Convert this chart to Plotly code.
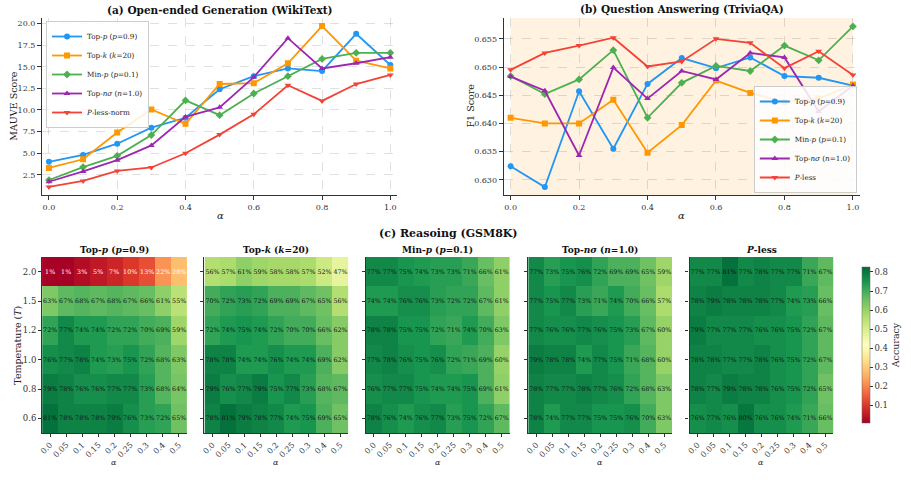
import plotly.graph_objects as go

W, H = 911, 494

# ---------------- data ----------------
alpha = [0.0, 0.1, 0.2, 0.3, 0.4, 0.5, 0.6, 0.7, 0.8, 0.9, 1.0]

mauve_top_p = [4.0, 4.8, 6.1, 7.95, 9.1, 12.4, 13.9, 14.8, 14.5, 18.8, 15.2]
mauve_top_k = [3.3, 4.3, 7.4, 10.05, 8.4, 13.0, 13.1, 15.4, 19.7, 15.7, 14.8]
mauve_min_p = [1.9, 3.4, 4.7, 7.1, 11.1, 9.4, 11.9, 13.9, 15.9, 16.6, 16.6]
mauve_top_ns = [1.7, 2.9, 4.2, 5.9, 9.2, 10.3, 13.8, 18.3, 14.8, 15.4, 16.1]
mauve_pless_norm = [1.1, 1.8, 2.95, 3.35, 5.0, 7.15, 9.5, 12.85, 11.05, 13.0, 14.05]

f1_top_p = [0.6324, 0.6287, 0.6457, 0.6355, 0.6470, 0.6516, 0.6498, 0.6517, 0.6484, 0.6481, 0.6467]
f1_top_k = [0.6410, 0.6400, 0.6400, 0.6442, 0.6348, 0.6397, 0.6476, 0.6454, 0.6438, 0.6444, 0.6469]
f1_min_p = [0.6484, 0.6452, 0.6478, 0.6530, 0.6410, 0.6472, 0.6502, 0.6493, 0.6538, 0.6512, 0.6572]
f1_top_ns = [0.6483, 0.6458, 0.6343, 0.6499, 0.6444, 0.6493, 0.6478, 0.6525, 0.6517, 0.6421, 0.6467]
f1_pless = [0.6495, 0.6525, 0.6538, 0.6552, 0.6501, 0.6510, 0.6550, 0.6543, 0.6498, 0.6528, 0.6486]

heat_alpha = ['0.0', '0.05', '0.1', '0.15', '0.2', '0.25', '0.3', '0.4', '0.5']
heat_temp = ['2.0', '1.5', '1.2', '1.0', '0.8', '0.6']

acc_top_p = [[1, 1, 3, 5, 7, 10, 13, 22, 28],
             [63, 67, 68, 67, 68, 67, 66, 61, 55],
             [72, 77, 74, 74, 72, 72, 70, 69, 59],
             [76, 77, 78, 74, 73, 75, 72, 68, 63],
             [79, 78, 76, 76, 77, 77, 73, 68, 64],
             [81, 78, 78, 78, 79, 76, 73, 72, 65]]
acc_top_k = [[56, 57, 61, 59, 58, 58, 57, 52, 47],
             [70, 72, 73, 72, 69, 69, 67, 65, 56],
             [72, 74, 75, 74, 72, 70, 70, 66, 62],
             [78, 78, 74, 74, 76, 74, 74, 69, 62],
             [79, 76, 77, 79, 75, 77, 73, 68, 67],
             [78, 81, 79, 78, 77, 74, 75, 69, 65]]
acc_min_p = [[77, 77, 75, 74, 73, 73, 71, 66, 61],
             [74, 74, 76, 76, 73, 72, 72, 67, 61],
             [78, 78, 75, 75, 72, 71, 74, 70, 63],
             [77, 78, 76, 75, 76, 72, 71, 69, 60],
             [76, 77, 77, 75, 74, 74, 75, 69, 61],
             [78, 76, 74, 76, 77, 73, 75, 72, 67]]
acc_top_ns = [[77, 73, 75, 76, 72, 69, 69, 65, 59],
              [77, 75, 77, 73, 71, 74, 70, 66, 57],
              [77, 76, 76, 77, 76, 75, 73, 67, 60],
              [79, 78, 78, 74, 77, 75, 71, 68, 60],
              [78, 77, 77, 78, 77, 76, 72, 68, 63],
              [78, 74, 77, 77, 75, 75, 76, 70, 63]]
acc_pless = [[77, 77, 81, 77, 78, 77, 77, 71, 67],
             [78, 79, 78, 78, 78, 77, 74, 73, 66],
             [79, 77, 77, 77, 76, 76, 75, 72, 67],
             [78, 78, 77, 77, 78, 76, 75, 72, 67],
             [78, 77, 79, 78, 78, 76, 75, 72, 65],
             [76, 77, 76, 80, 76, 76, 74, 71, 66]]

line_names_a = ['Top-<i>p</i> (<i>p</i>=0.9)', 'Top-<i>k</i> (<i>k</i>=20)', 'Min-<i>p</i> (<i>p</i>=0.1)',
                'Top-<i>nσ</i> (<i>n</i>=1.0)', '<i>P</i>-less-norm']
line_names_b = ['Top-<i>p</i> (<i>p</i>=0.9)', 'Top-<i>k</i> (<i>k</i>=20)', 'Min-<i>p</i> (<i>p</i>=0.1)',
                'Top-<i>nσ</i> (<i>n</i>=1.0)', '<i>P</i>-less']
heat_titles = ['Top-<i>p</i> (<i>p</i>=0.9)', 'Top-<i>k</i> (<i>k</i>=20)', 'Min-<i>p</i> (<i>p</i>=0.1)',
               'Top-<i>nσ</i> (<i>n</i>=1.0)', '<i>P</i>-less']

# ---------------- style ----------------
colors = ['#2196F3', '#FF9800', '#4CAF50', '#9C27B0', '#F44336']
symbols = ['circle', 'square', 'diamond', 'triangle-up', 'triangle-down']
SERIF = 'DejaVu Serif'
AX = '#333333'


def px(x):
    return x / W


def py(y):
    return 1 - y / H


fig = go.Figure()

series_a = [mauve_top_p, mauve_top_k, mauve_min_p, mauve_top_ns, mauve_pless_norm]
series_b = [f1_top_p, f1_top_k, f1_min_p, f1_top_ns, f1_pless]

for i, s in enumerate(series_a):
    fig.add_trace(go.Scatter(x=alpha, y=s, mode='lines+markers', name=line_names_a[i],
                             line=dict(color=colors[i], width=1.8),
                             marker=dict(symbol=symbols[i], size=6, color=colors[i]),
                             xaxis='x', yaxis='y', legend='legend'))
for i, s in enumerate(series_b):
    fig.add_trace(go.Scatter(x=alpha, y=s, mode='lines+markers', name=line_names_b[i],
                             line=dict(color=colors[i], width=1.8),
                             marker=dict(symbol=symbols[i], size=6, color=colors[i]),
                             xaxis='x2', yaxis='y2', legend='legend2'))

heat_data = [acc_top_p, acc_top_k, acc_min_p, acc_top_ns, acc_pless]
for k, d in enumerate(heat_data):
    z = [[v / 100 for v in row] for row in d]
    txt_dark = [['%d%%' % v if v >= 30 else '' for v in row] for row in d]
    z_low = [[v / 100 if v < 30 else None for v in row] for row in d]
    txt_low = [['%d%%' % v if v < 30 else '' for v in row] for row in d]
    xa = 'x%d' % (k + 3)
    ya = 'y%d' % (k + 3)
    fig.add_trace(go.Heatmap(z=z, x=heat_alpha, y=heat_temp, text=txt_dark, texttemplate='%{text}',
                             textfont=dict(family=SERIF, size=6.3, color='#111111'),
                             coloraxis='coloraxis', xaxis=xa, yaxis=ya, hoverinfo='skip'))
    if any(v < 30 for row in d for v in row):
        fig.add_trace(go.Heatmap(z=z_low, x=heat_alpha, y=heat_temp, text=txt_low, texttemplate='%{text}',
                                 textfont=dict(family=SERIF, size=6.3, color='#ffffff'),
                                 coloraxis='coloraxis', xaxis=xa, yaxis=ya, hoverinfo='skip'))

# ---------------- layout ----------------
tickfont = dict(family=SERIF, size=8, color=AX)
line_y_dom = [py(195), py(18)]

common_line_x = dict(range=[-0.02, 1.02], tickvals=[0, 0.2, 0.4, 0.6, 0.8, 1.0], ticktext=['0.0', '0.2', '0.4', '0.6', '0.8', '1.0'],
                     showline=True, linecolor=AX, linewidth=1.2, ticks='outside', ticklen=4, tickcolor=AX,
                     showgrid=True, gridcolor='rgba(0,0,0,0.12)', griddash='dash', gridwidth=0.8,
                     zeroline=False, tickfont=tickfont)

layout = dict(
    width=W, height=H, margin=dict(l=0, r=0, t=0, b=0),
    paper_bgcolor='white', plot_bgcolor='rgba(0,0,0,0)',
    showlegend=True,
    xaxis=dict(domain=[px(40), px(403)], anchor='y', **common_line_x),
    yaxis=dict(domain=line_y_dom, anchor='x', range=[0.17, 20.63], tickvals=[2.5, 5, 7.5, 10, 12.5, 15, 17.5, 20],
               ticktext=['2.5', '5.0', '7.5', '10.0', '12.5', '15.0', '17.5', '20.0'],
               showline=True, linecolor=AX, linewidth=1.2, ticks='outside', ticklen=4, tickcolor=AX,
               showgrid=True, gridcolor='rgba(0,0,0,0.12)', griddash='dash', gridwidth=0.8, zeroline=False,
               tickfont=tickfont),
    xaxis2=dict(domain=[px(512), px(876)], anchor='y2', **common_line_x),
    yaxis2=dict(domain=line_y_dom, anchor='x2', range=[0.6273, 0.6587],
                tickvals=[0.630, 0.635, 0.640, 0.645, 0.650, 0.655],
                ticktext=['0.630', '0.635', '0.640', '0.645', '0.650', '0.655'],
                showline=True, linecolor=AX, linewidth=1.2, ticks='outside', ticklen=4, tickcolor=AX,
                showgrid=True, gridcolor='rgba(0,0,0,0.12)', griddash='dash', gridwidth=0.8, zeroline=False,
                tickfont=tickfont),
    legend=dict(x=px(44), y=py(21), xanchor='left', yanchor='top', font=dict(family=SERIF, size=7.2, color='#222'),
                bgcolor='rgba(255,255,255,0.85)', bordercolor='#cccccc', borderwidth=1, itemwidth=30,
                tracegroupgap=0),
    legend2=dict(x=px(873), y=py(193), xanchor='right', yanchor='bottom', font=dict(family=SERIF, size=7.2, color='#222'),
                 bgcolor='rgba(255,255,255,0.85)', bordercolor='#cccccc', borderwidth=1, itemwidth=30,
                 tracegroupgap=0),
    coloraxis=dict(colorscale='RdYlGn', cmin=0.007, cmax=0.826,
                   colorbar=dict(x=px(868), xanchor='left', y=py(345), yanchor='middle',
                                 len=176, lenmode='pixels', thickness=8, thicknessmode='pixels',
                                 outlinewidth=0.5, outlinecolor='#666',
                                 tickvals=[0.1, 0.2, 0.3, 0.4, 0.5, 0.6, 0.7, 0.8],
                                 ticks='outside', ticklen=3, tickcolor=AX,
                                 tickfont=dict(family=SERIF, size=8.5, color=AX),
                                 title=dict(text='Accuracy', side='right', font=dict(family=SERIF, size=9.5, color=AX)))),
    shapes=[dict(type='rect', xref='x2', yref='y2 domain', x0=0, x1=1, y0=0, y1=1,
                 fillcolor='rgba(255,152,0,0.12)', line=dict(width=0), layer='below')],
)

heat_x_edges = [(40, 188), (206, 353), (371, 518), (537, 684), (702, 849)]
heat_y_dom = [py(433), py(257)]
annotations = []
for k, (x0, x1) in enumerate(heat_x_edges):
    n = k + 3
    layout['xaxis%d' % n] = dict(domain=[px(x0), px(x1)], anchor='y%d' % n, type='category',
                                 tickangle=-45, ticks='outside', ticklen=3, tickcolor=AX,
                                 showline=True, linecolor=AX, linewidth=1.2, showgrid=False, zeroline=False,
                                 tickfont=dict(family=SERIF, size=8, color=AX))
    layout['yaxis%d' % n] = dict(domain=heat_y_dom, anchor='x%d' % n, type='category', autorange='reversed',
                                 ticks='outside', ticklen=3, tickcolor=AX, showticklabels=(k == 0),
                                 showline=True, linecolor=AX, linewidth=1.2, showgrid=False, zeroline=False,
                                 tickfont=dict(family=SERIF, size=8.5, color=AX))
    annotations.append(dict(text='<b>%s</b>' % heat_titles[k], x=px((x0 + x1) / 2), y=py(250), xref='paper', yref='paper',
                            showarrow=False, xanchor='center', yanchor='middle', font=dict(family=SERIF, size=9, color='#111')))
    annotations.append(dict(text='<i>α</i>', x=px((x0 + x1) / 2), y=py(462), xref='paper', yref='paper',
                            showarrow=False, xanchor='center', yanchor='middle', font=dict(family=SERIF, size=8, color='#222')))

annotations += [
    dict(text='<b>(a) Open-ended Generation (WikiText)</b>', x=px(222), y=py(10), font=dict(family=SERIF, size=10.5, color='#111')),
    dict(text='<b>(b) Question Answering (TriviaQA)</b>', x=px(694), y=py(10), font=dict(family=SERIF, size=10.5, color='#111')),
    dict(text='<b>(c) Reasoing (GSM8K)</b>', x=px(455), y=py(233), font=dict(family=SERIF, size=11, color='#111')),
    dict(text='MAUVE Score', x=px(10), y=py(106), textangle=-90, font=dict(family=SERIF, size=9.5, color='#222')),
    dict(text='F1 Score', x=px(477), y=py(106), textangle=-90, font=dict(family=SERIF, size=9.5, color='#222')),
    dict(text='<i>α</i>', x=px(222), y=py(215), font=dict(family=SERIF, size=10, color='#222')),
    dict(text='<i>α</i>', x=px(694), y=py(215), font=dict(family=SERIF, size=10, color='#222')),
    dict(text='Temperature (<i>T</i>)', x=px(14), y=py(345), textangle=-90, font=dict(family=SERIF, size=9.5, color='#222')),
]
for a in annotations:
    a.setdefault('xref', 'paper')
    a.setdefault('yref', 'paper')
    a.setdefault('showarrow', False)
    a.setdefault('xanchor', 'center')
    a.setdefault('yanchor', 'middle')
layout['annotations'] = annotations

fig.update_layout(**layout)
fig.write_html('out.html')
